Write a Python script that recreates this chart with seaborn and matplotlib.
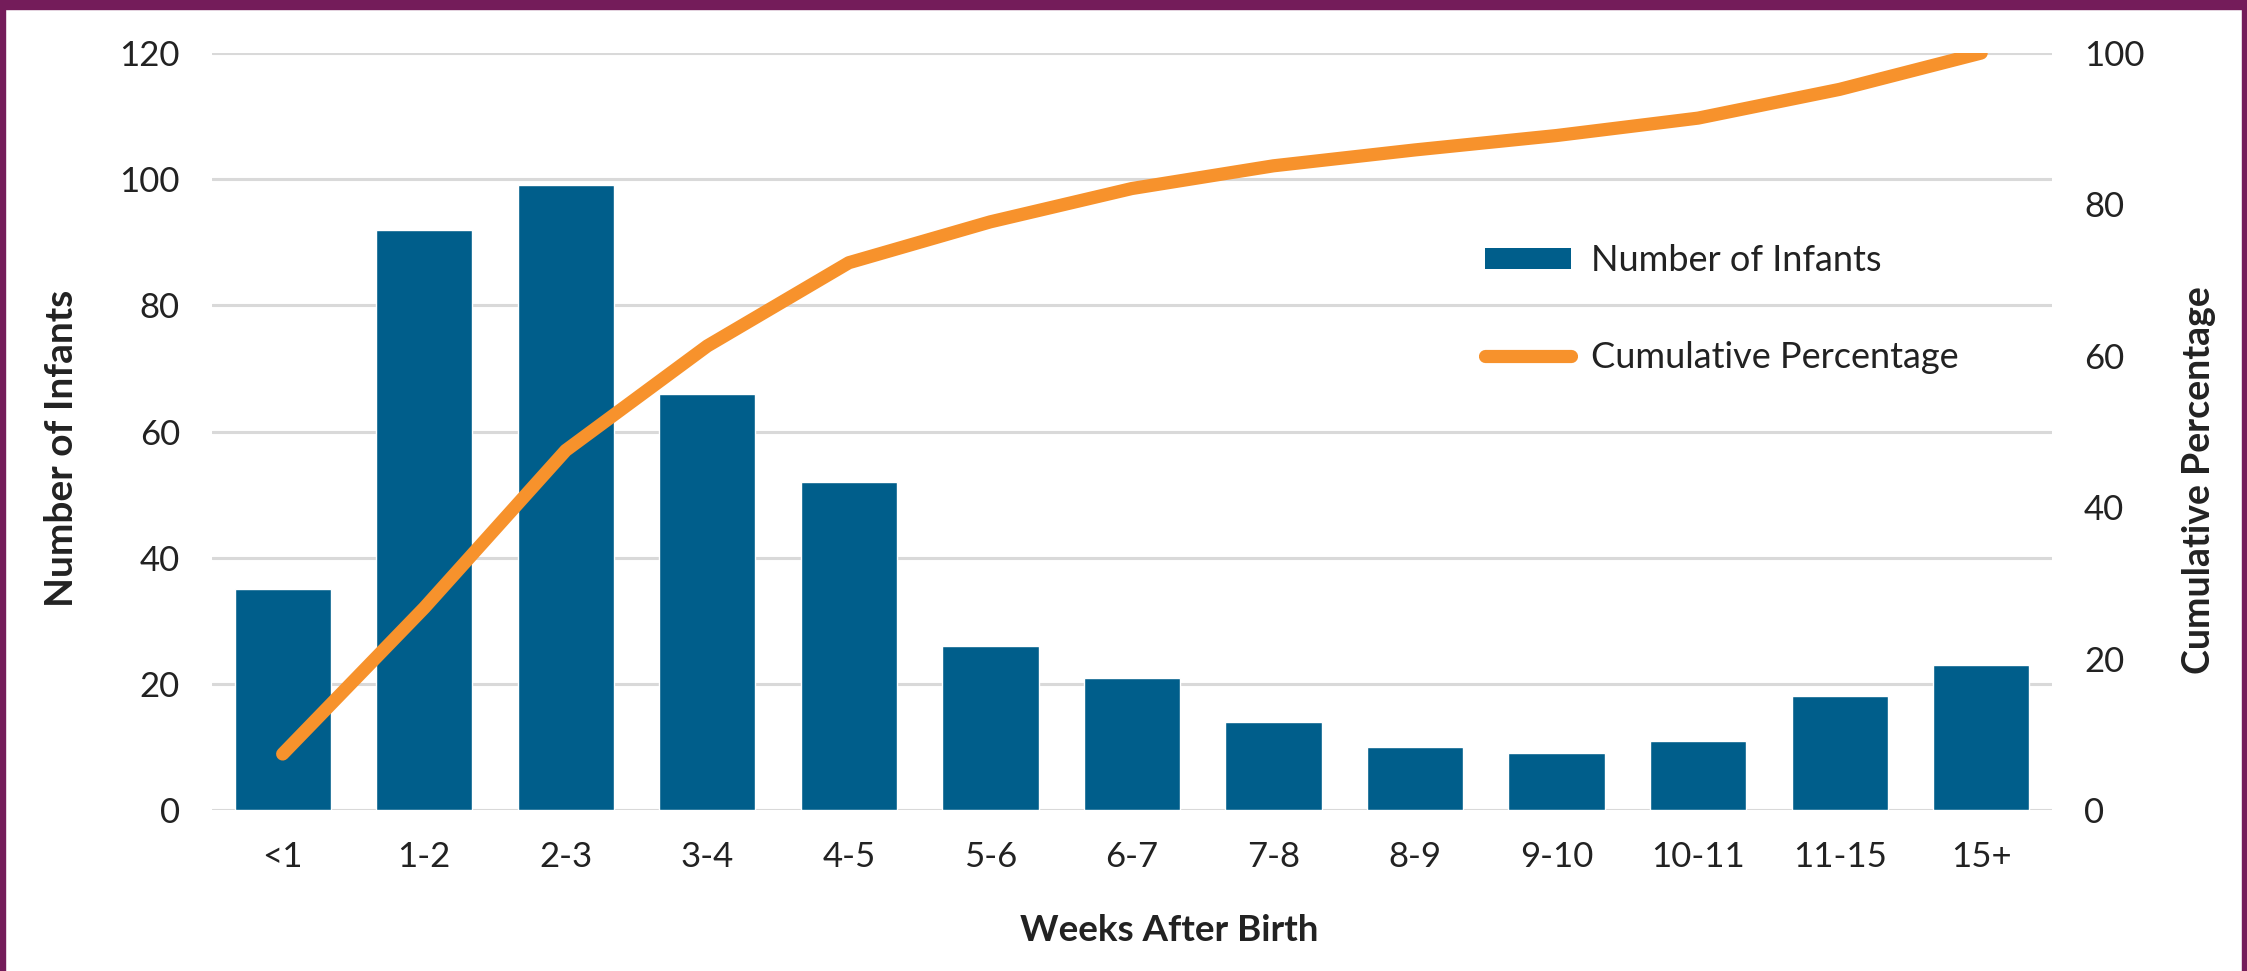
import matplotlib
matplotlib.use("Agg")
import matplotlib.pyplot as plt
from matplotlib.patches import Rectangle, Patch
from matplotlib.lines import Line2D
import numpy as np
import pandas as pd
import seaborn as sns

# Age groups (weeks after birth), infant counts and cumulative share
categories = ["<1", "1-2", "2-3", "3-4", "4-5", "5-6", "6-7", "7-8",
              "8-9", "9-10", "10-11", "11-15", "15+"]
infants = [35, 92, 99, 66, 52, 26, 21, 14, 10, 9, 11, 18, 23]
cumulative_pct = [7.4, 26.7, 47.5, 61.3, 72.3, 77.7, 82.1, 85.1,
                  87.2, 89.1, 91.4, 95.2, 100.0]
left_ticks = [0, 20, 40, 60, 80, 100, 120]
right_ticks = [0, 20, 40, 60, 80, 100]

BAR_COLOR = "#005E8B"
LINE_COLOR = "#F7922C"
GRID_COLOR = "#D9D9D9"
TEXT_COLOR = "#222222"
FRAME_COLOR = "#741C5A"

sns.set_theme(style="white")
plt.rcParams["font.family"] = ["Lato", "DejaVu Sans"]

df = pd.DataFrame({"week": categories, "infants": infants,
                   "pct": cumulative_pct})

fig = plt.figure(figsize=(22.47, 9.71), dpi=100)
ax = fig.add_axes([0.0943, 0.1658, 0.8189, 0.7796])

sns.barplot(data=df, x="week", y="infants", color=BAR_COLOR, width=0.68,
            saturation=1, ax=ax, zorder=2)
ax.set_ylim(0, 120)
ax.set_yticks(left_ticks)
ax.set_xlim(-0.5, len(categories) - 0.5)
ax.yaxis.grid(True, color=GRID_COLOR, linewidth=2.2, zorder=0)
ax.set_axisbelow(True)
ax.tick_params(axis="both", length=0, labelsize=25, colors=TEXT_COLOR)
ax.tick_params(axis="y", pad=23)
ax.tick_params(axis="x", pad=22)
ax.set_xlabel("Weeks After Birth", fontsize=26.5, fontweight="bold",
              color=TEXT_COLOR, labelpad=30)
ax.xaxis.label.set_x(0.52)
ax.set_ylabel("Number of Infants", fontsize=28, fontweight="bold",
              color=TEXT_COLOR, labelpad=29)
ax.yaxis.label.set_y(0.478)
for s in ax.spines.values():
    s.set_visible(False)

ax2 = ax.twinx()
sns.lineplot(x=np.arange(len(categories)), y=df["pct"], color=LINE_COLOR,
             linewidth=9.5, solid_capstyle="round", ax=ax2, zorder=3)
ax2.set_ylim(0, 100)
ax2.set_yticks(right_ticks)
ax2.tick_params(axis="y", length=0, labelsize=25, colors=TEXT_COLOR, pad=23)
ax2.set_ylabel("Cumulative Percentage", fontsize=27, fontweight="bold",
               color=TEXT_COLOR, labelpad=27)
ax2.yaxis.label.set_y(0.436)
for s in ax2.spines.values():
    s.set_visible(False)

handles = [Patch(facecolor=BAR_COLOR, edgecolor="none"),
           Line2D([0], [0], color=LINE_COLOR, linewidth=9.5,
                  solid_capstyle="round")]
ax2.legend(handles, ["Number of Infants", "Cumulative Percentage"],
           loc="upper left", bbox_to_anchor=(0.674, 0.79), frameon=False,
           fontsize=26, handlelength=2.4, handleheight=0.5,
           labelspacing=1.75, handletextpad=0.55, labelcolor=TEXT_COLOR)

# Purple frame around the panel (top band and side rules)
fig.patches.append(Rectangle((0, 1 - 9 / 971), 1, 9 / 971,
                             transform=fig.transFigure, color=FRAME_COLOR,
                             zorder=10))
fig.patches.append(Rectangle((0, 0), 5 / 2247, 1, transform=fig.transFigure,
                             color=FRAME_COLOR, zorder=10))
fig.patches.append(Rectangle((1 - 5 / 2247, 0), 5 / 2247, 1,
                             transform=fig.transFigure, color=FRAME_COLOR,
                             zorder=10))

fig.savefig("out.png", dpi=100, facecolor="white")
